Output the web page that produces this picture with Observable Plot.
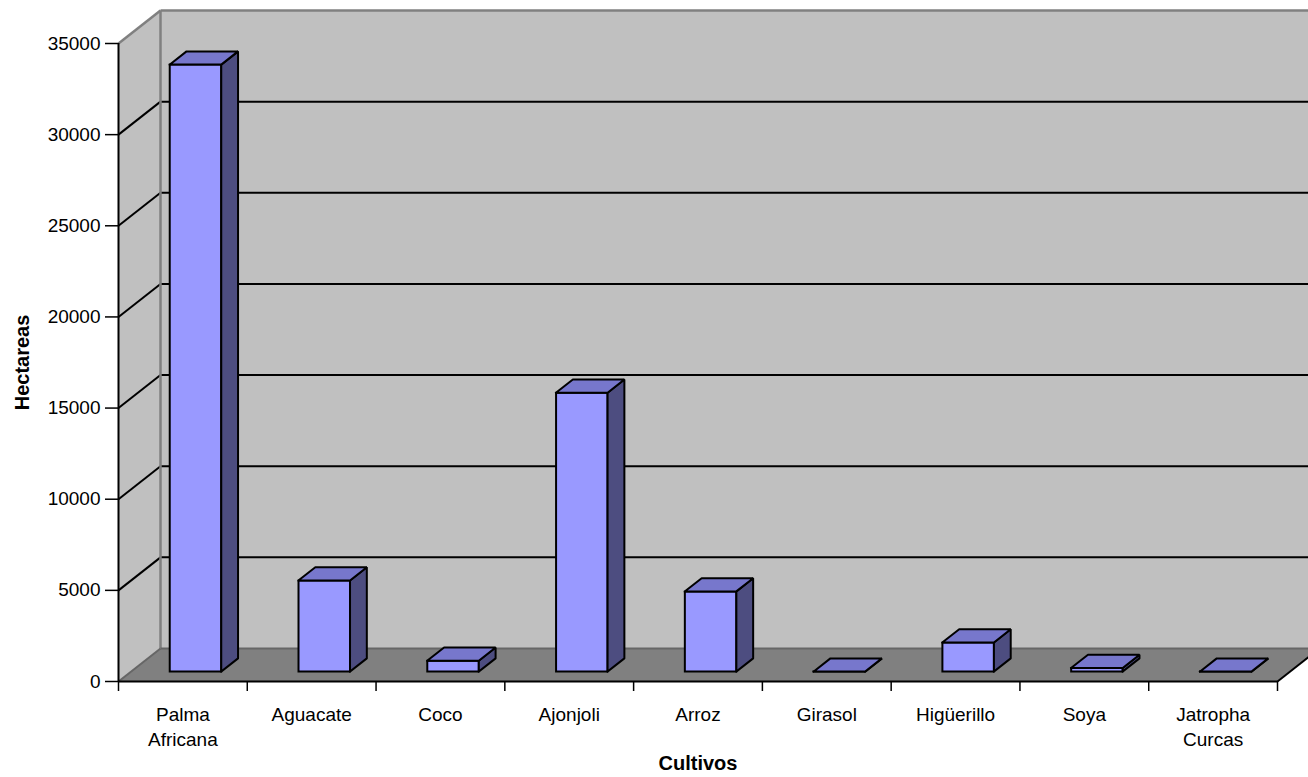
<!DOCTYPE html>
<html><head><meta charset="utf-8">
<script src="https://cdn.jsdelivr.net/npm/d3@7"></script>
<script src="https://cdn.jsdelivr.net/npm/@observablehq/plot@0.6"></script>
<style>html,body{margin:0;padding:0;overflow:hidden;background:#fff}</style>
</head><body><div id="chart"></div>
<script>
// ---- data ----
const categories = ["Palma Africana","Aguacate","Coco","Ajonjoli","Arroz","Girasol","Higüerillo","Soya","Jatropha Curcas"];
const categoryLabels = ["Palma\nAfricana","Aguacate","Coco","Ajonjoli","Arroz","Girasol","Higüerillo","Soya","Jatropha\nCurcas"];
const hectareas = [33300, 5000, 600, 15300, 4400, 0, 1600, 200, 0];
const yTicks = [0, 5000, 10000, 15000, 20000, 25000, 30000, 35000];
const yTitle = "Hectareas";
const xTitle = "Cultivos";

// ---- layout ----
const W = 1308, H = 777, mL = 118, mR = 31, mT = 43, mB = 96;
const yMax = 35000;
const n = categories.length;
const depthX = 42, depthY = 33;               // wall depth in pixels
const xUnit = (W - mL - mR) / n;               // px per category
const yUnit = (H - mT - mB) / yMax;            // px per hectare
const DXU = depthX / xUnit, DYU = depthY / yUnit;
// 3D (category, value, depth 0..1) -> plot data coordinates
const P = (x, y, z) => [x + z * DXU, y + z * DYU];

function polys(list) {
  const out = [];
  list.forEach((pts, k) => {
    const closed = pts.concat([pts[0]]);
    closed.forEach(p => { const [x, y] = P(...p); out.push({id: k, x, y}); });
  });
  return out;
}
function segs(list) {
  return list.map(([a, b]) => { const [x1, y1] = P(...a); const [x2, y2] = P(...b); return {x1, y1, x2, y2}; });
}

const leftWall = polys([[[0,0,0],[0,yMax,0],[0,yMax,1],[0,0,1]]]);
const backWall = polys([[[0,0,1],[n,0,1],[n,yMax,1],[0,yMax,1]]]);
const floor = polys([[[0,0,0],[n,0,0],[n,0,1],[0,0,1]]]);
const wallBorders = segs([
  [[0,yMax,0],[0,yMax,1]],
  [[0,yMax,1],[n,yMax,1]],
  [[0,0,1],[0,yMax,1]]
]);
const floorBorders = segs([[[0,0,0],[0,0,1]],[[0,0,1],[n,0,1]]]);
const floorRight = segs([[[n,0,0],[n,0,1]]]);
const gridVals = yTicks.filter(v => v > 0 && v < yMax);
const gridLines = segs(gridVals.flatMap(v => [[[0,v,0],[0,v,1]], [[0,v,1],[n,v,1]]]));

const z0 = 0.3, z1 = 0.7, b0 = 0.3, b1 = 0.7;
const fronts = polys(hectareas.map((v, i) => [[i+b0,0,z0],[i+b1,0,z0],[i+b1,v,z0],[i+b0,v,z0]]));
const sides = polys(hectareas.map((v, i) => [[i+b1,0,z0],[i+b1,0,z1],[i+b1,v,z1],[i+b1,v,z0]]));
const tops = polys(hectareas.map((v, i) => [[i+b0,v,z0],[i+b1,v,z0],[i+b1,v,z1],[i+b0,v,z1]]));

const font = "'Liberation Sans', Arial, Helvetica, sans-serif";
const faceOpts = {x: "x", y: "y", z: "id", stroke: "black", strokeWidth: 2, strokeLinejoin: "miter", strokeLinecap: "square"};

const chart = Plot.plot({
  width: W, height: H,
  marginLeft: mL, marginRight: mR, marginTop: mT, marginBottom: mB,
  style: {fontFamily: font, fontSize: "19px", color: "black", background: "white", overflow: "visible"},
  x: {type: "linear", domain: [0, n]},
  y: {type: "linear", domain: [0, yMax]},
  marks: [
    Plot.line(leftWall, {x: "x", y: "y", z: "id", fill: "#C0C0C0", stroke: "none"}),
    Plot.line(backWall, {x: "x", y: "y", z: "id", fill: "#C0C0C0", stroke: "none"}),
    Plot.link(gridLines, {x1: "x1", y1: "y1", x2: "x2", y2: "y2", stroke: "black", strokeWidth: 2}),
    Plot.link(wallBorders, {x1: "x1", y1: "y1", x2: "x2", y2: "y2", stroke: "#808080", strokeWidth: 2.5}),
    Plot.line(floor, {x: "x", y: "y", z: "id", fill: "#808080", stroke: "none"}),
    Plot.link(floorBorders, {x1: "x1", y1: "y1", x2: "x2", y2: "y2", stroke: "#666666", strokeWidth: 2}),
    Plot.link(floorRight, {x1: "x1", y1: "y1", x2: "x2", y2: "y2", stroke: "black", strokeWidth: 2}),
    Plot.line(fronts, {...faceOpts, fill: "#9999FF"}),
    Plot.line(sides, {...faceOpts, fill: "#4D4D80"}),
    Plot.line(tops, {...faceOpts, fill: "#7777CC"}),
    Plot.ruleX([0], {y1: 0, y2: yMax, stroke: "black", strokeWidth: 2}),
    Plot.ruleY([0], {x1: 0, x2: n, stroke: "black", strokeWidth: 2}),
    Plot.axisY({ticks: yTicks, tickSize: 13, tickPadding: 5, fontSize: 19, label: null, tickFormat: d => String(d), strokeWidth: 1.5}),
    Plot.axisX({ticks: d3.range(n + 1), tickSize: 10, tickFormat: () => "", label: null, strokeWidth: 1.5}),
    Plot.text(categoryLabels, {x: (d, i) => i + 0.5, y: () => 0, dy: 22, lineAnchor: "top", lineHeight: 1.3, fontSize: 19, fill: "black"}),
    Plot.text([xTitle], {x: () => n / 2, y: () => 0, dy: 82, lineAnchor: "middle", fontSize: 20, fontWeight: "bold", fill: "black"}),
    Plot.text([yTitle], {x: () => (22 - mL) / xUnit, y: () => yMax / 2, rotate: -90, lineAnchor: "middle", textAnchor: "middle", fontSize: 20, fontWeight: "bold", fill: "black"})
  ]
});
document.getElementById("chart").appendChild(chart);
</script>
</body></html>
